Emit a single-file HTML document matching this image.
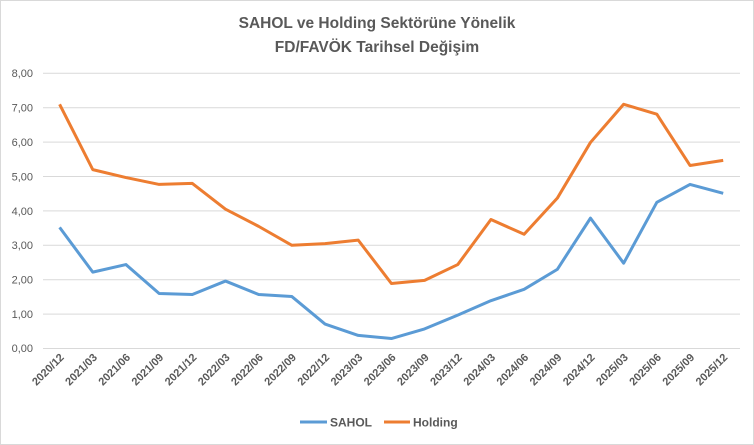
<!DOCTYPE html>
<html><head><meta charset="utf-8"><style>
body{margin:0;background:#fff}
svg{display:block;font-family:"Liberation Sans",sans-serif}
</style></head><body>
<svg width="754" height="445" viewBox="0 0 754 445" xmlns="http://www.w3.org/2000/svg">
<rect x="0.5" y="0.5" width="753" height="444" fill="#fff" stroke="#d9d9d9"/>
<text x="377" y="28" text-anchor="middle" font-size="15.5" font-weight="bold" fill="#595959">SAHOL ve Holding Sektörüne Yönelik</text>
<text x="377" y="52" text-anchor="middle" font-size="15.5" font-weight="bold" fill="#595959">FD/FAVÖK Tarihsel Değişim</text>
<g stroke="#d9d9d9" stroke-width="1">
<line x1="43" x2="740" y1="73.3" y2="73.3"/><line x1="43" x2="740" y1="107.7" y2="107.7"/>
<line x1="43" x2="740" y1="142.1" y2="142.1"/><line x1="43" x2="740" y1="176.5" y2="176.5"/>
<line x1="43" x2="740" y1="210.9" y2="210.9"/><line x1="43" x2="740" y1="245.3" y2="245.3"/>
<line x1="43" x2="740" y1="279.7" y2="279.7"/><line x1="43" x2="740" y1="314.1" y2="314.1"/>
<line x1="43" x2="740" y1="348.5" y2="348.5"/>
</g>
<g font-size="11" fill="#595959" text-anchor="end">
<text x="33" y="77">8,00</text><text x="33" y="111.5">7,00</text><text x="33" y="146">6,00</text>
<text x="33" y="180.5">5,00</text><text x="33" y="215">4,00</text><text x="33" y="249">3,00</text>
<text x="33" y="283.5">2,00</text><text x="33" y="318">1,00</text><text x="33" y="352">0,00</text>
</g>
<g id="xl" font-size="11" font-weight="bold" fill="#595959" text-anchor="end"></g>
<polyline id="h" fill="none" stroke="#ed7d31" stroke-width="3" stroke-linejoin="round"/>
<polyline id="s" fill="none" stroke="#5b9bd5" stroke-width="3" stroke-linejoin="round"/>
<line x1="300" x2="327" y1="422" y2="422" stroke="#5b9bd5" stroke-width="3"/>
<text x="330" y="426.5" font-size="12" font-weight="bold" fill="#595959">SAHOL</text>
<line x1="384" x2="410" y1="422" y2="422" stroke="#ed7d31" stroke-width="3"/>
<text x="413" y="426.5" font-size="12" font-weight="bold" fill="#595959">Holding</text>
</svg>
<script>
var L=["2020/12","2021/03","2021/06","2021/09","2021/12","2022/03","2022/06","2022/09","2022/12","2023/03","2023/06","2023/09","2023/12","2024/03","2024/06","2024/09","2024/12","2025/03","2025/06","2025/09","2025/12"];
var H=[7.10,5.20,4.97,4.77,4.80,4.05,3.55,3.00,3.05,3.15,1.89,1.98,2.44,3.75,3.32,4.37,5.99,7.10,6.81,5.32,5.47];
var S=[3.52,2.22,2.44,1.60,1.57,1.96,1.57,1.51,0.71,0.38,0.29,0.57,0.97,1.39,1.72,2.30,3.79,2.48,4.25,4.77,4.51];
function X(i){return 59.6+i*33.18}function Y(v){return 348.5-v*34.4}
document.getElementById('h').setAttribute('points',H.map((v,i)=>X(i)+','+Y(v)).join(' '));
document.getElementById('s').setAttribute('points',S.map((v,i)=>X(i)+','+Y(v)).join(' '));
var g=document.getElementById('xl'),h='';
L.forEach((l,i)=>{var x=X(i)+5,y=358;h+='<text x="'+x+'" y="'+y+'" transform="rotate(-45 '+x+' '+y+')">'+l+'</text>';});
g.innerHTML=h;
</script>
</body></html>
